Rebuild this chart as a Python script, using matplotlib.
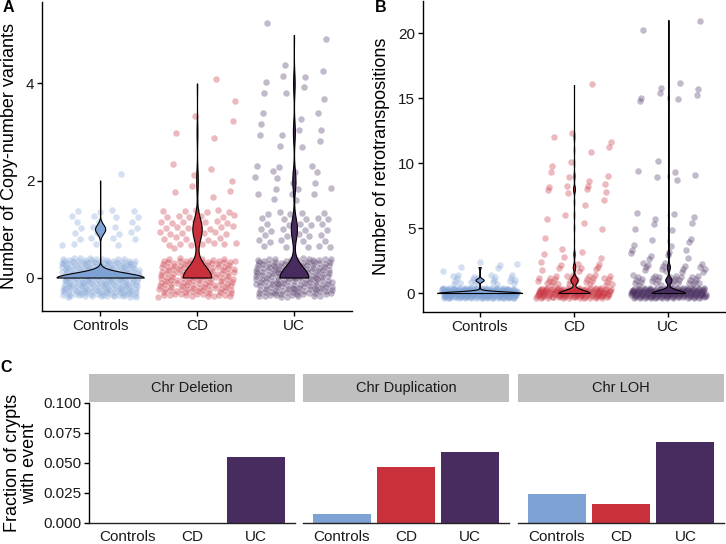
import numpy as np
import matplotlib
matplotlib.use("Agg")
import matplotlib.pyplot as plt

plt.rcParams['font.family'] = ['Liberation Sans', 'DejaVu Sans']

# ---------------- data ----------------
groups = ["Controls", "CD", "UC"]
group_colors = ["#7FA2D5", "#C8303C", "#482C5F"]

# Panel A: number of crypts with each copy-number-variant count (values 0..5)
cnv_values = [0, 1, 2, 3, 4, 5]
cnv_controls = [232, 27, 1, 0, 0, 0]
cnv_cd = [140, 46, 8, 4, 2, 0]
cnv_uc = [165, 35, 18, 11, 9, 2]

# Panel B: number of crypts with each retrotransposition count (values 0..21)
retro_values = list(range(22))
retro_controls = [232, 22, 6] + [0] * 19
retro_cd = [128, 30, 10, 5, 1, 2, 2, 2, 8, 4, 2, 2, 3, 0, 0, 0, 1, 0, 0, 0, 0, 0]
retro_uc = [158, 30, 15, 8, 5, 4, 4, 0, 0, 5, 1, 0, 0, 0, 0, 5, 3, 0, 0, 0, 1, 1]

# Panel C: fraction of crypts with event
facets = ["Chr Deletion", "Chr Duplication", "Chr LOH"]
frac_deletion = [0.0, 0.0, 0.0553]
frac_duplication = [0.0072, 0.0464, 0.0589]
frac_loh = [0.0242, 0.0156, 0.0672]

W, H = 726, 544
fig = plt.figure(figsize=(W / 100, H / 100), dpi=100)

TICK_FS = 11
TITLE_FS = 13


def box(x0, y0, x1, y1):
    return [x0 / W, 1 - y1 / H, (x1 - x0) / W, (y1 - y0) / H]


def jitter_offsets(n, start):
    i = np.arange(start, start + n)
    a1 = 0.7548776662466927
    a2 = 0.5698402909980532
    jx = ((0.5 + i * a1) % 1.0) * 0.8 - 0.4
    jy = ((0.5 + i * a2) % 1.0) * 0.8 - 0.4
    return jx, jy


def bw_nrd0(x):
    hi = np.std(x, ddof=1)
    q75, q25 = np.percentile(x, [75, 25])
    lo = min(hi, (q75 - q25) / 1.34)
    if lo == 0:
        lo = hi
    return 0.9 * lo * len(x) ** (-0.2)


def style_axes(ax):
    for s in ["top", "right"]:
        ax.spines[s].set_visible(False)
    for s in ["left", "bottom"]:
        ax.spines[s].set_linewidth(1.0)
        ax.spines[s].set_color("black")
    ax.tick_params(axis="both", length=3.5, width=1.0, colors="black",
                   labelsize=TICK_FS, labelcolor="#1a1a1a", pad=2)


def violin_panel(ax, values, counts_list):
    values = np.asarray(values, dtype=float)
    dens_all = []
    for gi, counts in enumerate(counts_list):
        counts = np.asarray(counts)
        data = np.repeat(values, counts)
        bw = bw_nrd0(data)
        yy = np.linspace(data.min(), data.max(), 512)
        d = np.zeros_like(yy)
        for v, c in zip(values, counts):
            if c > 0:
                d += c * np.exp(-0.5 * ((yy - v) / bw) ** 2)
        d /= (len(data) * bw * np.sqrt(2 * np.pi))
        dens_all.append((yy, d))
    gmax = max(d.max() for _, d in dens_all)
    # jittered points
    start = 1
    for gi, counts in enumerate(counts_list):
        xs, ys = [], []
        for v, c in zip(values, counts):
            if c > 0:
                jx, jy = jitter_offsets(c, start)
                start += c
                xs.append(gi + 1 + jx)
                ys.append(v + jy)
        xs = np.concatenate(xs)
        ys = np.concatenate(ys)
        ax.scatter(xs, ys, s=22, color=group_colors[gi], alpha=0.33,
                   linewidths=0, zorder=1)
    for gi, (yy, d) in enumerate(dens_all):
        w = d / gmax * 0.45
        ax.fill_betweenx(yy, gi + 1 - w, gi + 1 + w, facecolor=group_colors[gi],
                         edgecolor="black", linewidth=0.8, zorder=2)
    ax.set_xlim(0.4, 3.6)
    ax.set_xticks([1, 2, 3])
    ax.set_xticklabels(groups)


# ---------------- Panel A ----------------
axA = fig.add_axes(box(42, 1.5, 352, 311))
violin_panel(axA, cnv_values, [cnv_controls, cnv_cd, cnv_uc])
axA.set_ylim(-0.69, 5.69)
axA.set_yticks([0, 2, 4])
style_axes(axA)
axA.set_ylabel("Number of Copy-number variants", fontsize=TITLE_FS, color="black")
axA.yaxis.set_label_coords(-0.077, 0.5)
fig.text(8 / W, 1 - 8 / H, "A", fontsize=11.5, fontweight="bold", ha="center", va="center")

# ---------------- Panel B ----------------
axB = fig.add_axes(box(423, 0.5, 725, 312))
violin_panel(axB, retro_values, [retro_controls, retro_cd, retro_uc])
axB.set_ylim(-1.46, 22.5)
axB.set_yticks([0, 5, 10, 15, 20])
style_axes(axB)
axB.set_ylabel("Number of retrotranspositions", fontsize=TITLE_FS, color="black")
axB.yaxis.set_label_coords(-0.108, 0.5)
fig.text(381 / W, 1 - 8 / H, "B", fontsize=11.5, fontweight="bold", ha="center", va="center")

# ---------------- Panel C ----------------
fig.text(6 / W, 1 - 368 / H, "C", fontsize=11.5, fontweight="bold", ha="center", va="center")
panel_x = [(89, 295), (303, 509), (518, 724)]
fracs = [frac_deletion, frac_duplication, frac_loh]
for k, ((x0, x1), name, vals) in enumerate(zip(panel_x, facets, fracs)):
    ax = fig.add_axes(box(x0, 403, x1, 523))
    ax.bar([1, 2, 3], vals, width=0.9, color=group_colors, edgecolor="none")
    ax.set_xlim(0.4, 3.6)
    ax.set_ylim(0, 0.1)
    ax.set_xticks([1, 2, 3])
    ax.set_xticklabels(groups)
    for s in ["top", "right", "left"]:
        ax.spines[s].set_visible(False)
    ax.spines["bottom"].set_linewidth(1.0)
    ax.spines["bottom"].set_color("#222222")
    ax.tick_params(axis="x", length=0, pad=5, labelsize=TICK_FS, labelcolor="#1a1a1a")
    if k == 0:
        ax.spines["left"].set_visible(True)
        ax.spines["left"].set_linewidth(1.0)
        ax.spines["left"].set_color("black")
        ax.set_yticks([0.0, 0.025, 0.05, 0.075, 0.1])
        ax.set_yticklabels(["0.000", "0.025", "0.050", "0.075", "0.100"])
        ax.tick_params(axis="y", length=3.5, width=1.0, pad=2, labelsize=TICK_FS,
                       labelcolor="#1a1a1a")
        ax.set_ylabel("Fraction of crypts\nwith event", fontsize=TITLE_FS,
                      linespacing=1.05)
        ax.yaxis.set_label_coords(-0.245, 0.5)
    else:
        ax.set_yticks([])
    # strip
    sax = fig.add_axes(box(x0, 374, x1, 402))
    sax.set_facecolor("#BFBFBF")
    sax.set_xticks([])
    sax.set_yticks([])
    for s in sax.spines.values():
        s.set_visible(False)
    sax.text(0.5, 0.5, name, ha="center", va="center", fontsize=10.5,
             color="#1a1a1a", transform=sax.transAxes)

fig.savefig("out.png", dpi=100)
